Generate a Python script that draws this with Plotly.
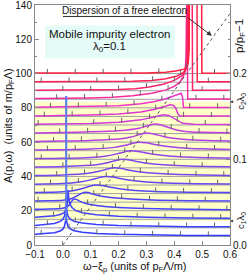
import numpy as np
import plotly.graph_objects as go
from plotly.colors import sample_colorscale

# ---------------- data ----------------
offsets = [5, 10, 15, 20, 25, 30, 35, 40, 45, 50, 55, 60, 65, 70, 75, 80, 85, 90, 95, 100]
p_rel = [0.01, 0.02, 0.03, 0.04, 0.05, 0.06, 0.07, 0.08, 0.09, 0.10,
         0.11, 0.12, 0.13, 0.14, 0.15, 0.16, 0.17, 0.18, 0.19, 0.20]

x_ticks = [-0.1, 0.0, 0.1, 0.2, 0.3, 0.4, 0.5, 0.6]
x_ticktext = ["\u22120.1", "0.0", "0.1", "0.2", "0.3", "0.4", "0.5", "0.6"]
y_ticks = [0, 20, 40, 60, 80, 100, 120, 140]
y2_ticks = [0.0, 0.1, 0.2]
y2_ticktext = ["0.0", "0.1", "0.2"]

# free electron dispersion (dotted line)
disp_x = [0.0, 0.6]
disp_A = [0.0, 135.0]

# band between c1*lambda0 and c2*lambda0
c1_level = 14.0
c2_level = 83.5

# quasiparticle delta peak
qp_omega = [0.012, 0.012]
qp_A = [14.0, 87.0]

# fixed-omega tick spacing on the curves
omega_tick_step = 0.1

# spectral functions (height above each curve's offset)
om01 = [-0.1, -0.06, -0.03, -0.01, 0.0, 0.006, 0.010, 0.012, 0.014, 0.018, 0.025, 0.04, 0.07, 0.12, 0.2, 0.3, 0.45, 0.6]
sp01 = [1.2, 1.6, 2.2, 3.2, 4.2, 6.0, 8.5, 11.0, 8.5, 6.0, 4.5, 3.3, 2.4, 1.7, 1.2, 0.9, 0.6, 0.5]
om02 = [-0.1, -0.06, -0.03, -0.01, 0.0, 0.006, 0.010, 0.012, 0.014, 0.018, 0.025, 0.04, 0.07, 0.12, 0.2, 0.3, 0.45, 0.6]
sp02 = [1.4, 1.9, 2.6, 3.8, 5.0, 7.0, 10.0, 13.0, 10.0, 7.0, 5.2, 3.8, 2.8, 2.0, 1.4, 1.0, 0.7, 0.6]
om03 = [-0.1, -0.06, -0.03, -0.01, 0.0, 0.008, 0.013, 0.016, 0.018, 0.019, 0.021, 0.025, 0.032, 0.045, 0.07, 0.12, 0.2, 0.3, 0.45, 0.6]
sp03 = [1.2, 1.5, 2.0, 2.8, 3.4, 4.5, 6.0, 8.5, 12.5, 17.0, 12.0, 9.0, 7.0, 5.2, 3.8, 2.6, 1.8, 1.2, 0.8, 0.6]
om04 = [-0.1, -0.05, 0.0, 0.015, 0.025, 0.032, 0.04, 0.048, 0.06, 0.08, 0.11, 0.15, 0.2, 0.3, 0.45, 0.6]
sp04 = [0.8, 1.0, 1.5, 2.3, 3.8, 5.6, 6.8, 6.6, 5.6, 4.4, 3.3, 2.5, 1.9, 1.3, 0.8, 0.6]
om05 = [-0.1, -0.05, 0.0, 0.03, 0.05, 0.065, 0.078, 0.09, 0.11, 0.14, 0.18, 0.24, 0.32, 0.45, 0.6]
sp05 = [0.6, 0.8, 1.1, 2.0, 3.6, 5.0, 5.8, 5.6, 4.6, 3.4, 2.5, 1.8, 1.2, 0.8, 0.6]
om06 = [-0.1, 0.0, 0.04, 0.07, 0.095, 0.12, 0.145, 0.175, 0.21, 0.26, 0.33, 0.45, 0.6]
sp06 = [0.6, 1.0, 1.8, 3.0, 4.3, 5.0, 4.6, 3.6, 2.6, 1.8, 1.2, 0.8, 0.6]
om07 = [-0.1, 0.0, 0.06, 0.1, 0.13, 0.155, 0.18, 0.21, 0.25, 0.3, 0.37, 0.47, 0.6]
sp07 = [0.5, 0.9, 1.8, 3.0, 4.3, 5.0, 4.6, 3.6, 2.6, 1.8, 1.2, 0.8, 0.6]
om08 = [-0.1, 0.0, 0.09, 0.13, 0.16, 0.185, 0.21, 0.24, 0.28, 0.33, 0.4, 0.5, 0.6]
sp08 = [0.5, 0.8, 1.8, 3.0, 4.3, 5.0, 4.6, 3.6, 2.6, 1.8, 1.2, 0.8, 0.6]
om09 = [-0.1, 0.0, 0.12, 0.16, 0.19, 0.215, 0.24, 0.27, 0.31, 0.36, 0.43, 0.52, 0.6]
sp09 = [0.5, 0.8, 1.8, 3.0, 4.3, 5.0, 4.6, 3.6, 2.6, 1.8, 1.2, 0.8, 0.6]
om10 = [-0.1, 0.0, 0.1, 0.15, 0.19, 0.22, 0.245, 0.27, 0.30, 0.34, 0.39, 0.46, 0.6]
sp10 = [0.4, 0.6, 1.1, 1.8, 3.0, 4.3, 5.0, 4.6, 3.6, 2.6, 1.8, 1.2, 0.7]
om11 = [-0.1, 0.0, 0.1, 0.18, 0.22, 0.25, 0.275, 0.30, 0.33, 0.37, 0.42, 0.5, 0.6]
sp11 = [0.4, 0.6, 1.0, 1.8, 3.0, 4.3, 5.0, 4.6, 3.6, 2.6, 1.8, 1.1, 0.7]
om12 = [-0.1, 0.0, 0.1, 0.2, 0.245, 0.275, 0.30, 0.325, 0.355, 0.39, 0.44, 0.52, 0.6]
sp12 = [0.4, 0.6, 1.0, 1.8, 3.0, 4.4, 5.3, 4.8, 3.6, 2.4, 1.5, 0.9, 0.6]
om13 = [-0.1, 0.0, 0.1, 0.2, 0.27, 0.305, 0.33, 0.35, 0.375, 0.405, 0.44, 0.5, 0.6]
sp13 = [0.4, 0.6, 1.0, 1.7, 3.0, 4.6, 5.6, 5.2, 3.8, 2.2, 1.2, 0.7, 0.5]
om14 = [-0.1, 0.0, 0.1, 0.2, 0.28, 0.33, 0.36, 0.38, 0.395, 0.41, 0.43, 0.47, 0.6]
sp14 = [0.4, 0.6, 0.9, 1.6, 3.0, 4.8, 6.0, 5.6, 4.2, 2.4, 1.0, 0.5, 0.3]
om15 = [-0.1, 0.0, 0.1, 0.2, 0.28, 0.33, 0.365, 0.385, 0.398, 0.406, 0.413, 0.42, 0.6]
sp15 = [0.3, 0.5, 0.8, 1.4, 2.6, 4.2, 5.8, 6.8, 6.4, 4.5, 1.5, 0.3, 0.2]
om16 = [-0.1, 0.0, 0.1, 0.2, 0.28, 0.33, 0.37, 0.40, 0.415, 0.425, 0.430, 0.433, 0.6]
sp16 = [0.3, 0.5, 0.8, 1.3, 2.4, 3.7, 5.3, 7.2, 8.3, 8.5, 6.0, 0.2, 0.2]
om17 = [-0.1, 0.0, 0.1, 0.18, 0.25, 0.32, 0.37, 0.40, 0.42, 0.432, 0.439, 0.442, 0.4435, 0.4465, 0.448, 0.6]
sp17 = [0.4, 0.5, 0.8, 1.2, 2.0, 3.5, 5.5, 7.5, 10.0, 13.0, 16.5, 25.0, 80.0, 80.0, 0.2, 0.2]
om18 = [-0.1, 0.1, 0.2, 0.26, 0.31, 0.36, 0.40, 0.425, 0.438, 0.443, 0.446, 0.4475, 0.464, 0.4655, 0.6]
sp18 = [0.3, 0.4, 0.7, 1.2, 2.2, 3.8, 6.0, 8.5, 11.0, 13.0, 20.0, 80.0, 80.0, 0.2, 0.2]
om19 = [-0.1, 0.1, 0.25, 0.32, 0.37, 0.41, 0.432, 0.443, 0.448, 0.4505, 0.452, 0.481, 0.4825, 0.6]
sp19 = [0.3, 0.3, 0.5, 1.0, 2.0, 3.6, 5.5, 8.0, 11.0, 20.0, 80.0, 80.0, 0.2, 0.2]
om20 = [-0.1, 0.1, 0.3, 0.37, 0.41, 0.435, 0.443, 0.45, 0.4535, 0.455, 0.4975, 0.499, 0.6]
sp20 = [0.3, 0.3, 0.4, 0.8, 1.6, 2.6, 3.5, 6.0, 14.0, 80.0, 80.0, 0.2, 0.2]

omegas = [om01, om02, om03, om04, om05, om06, om07, om08, om09, om10,
          om11, om12, om13, om14, om15, om16, om17, om18, om19, om20]
spectra = [sp01, sp02, sp03, sp04, sp05, sp06, sp07, sp08, sp09, sp10,
           sp11, sp12, sp13, sp14, sp15, sp16, sp17, sp18, sp19, sp20]

# ---------------- styling ----------------
FONT = "Liberation Sans, Arial, sans-serif"
scale = [[0.0, "rgb(50,60,255)"], [0.25, "rgb(85,70,250)"], [0.45, "rgb(140,70,235)"],
         [0.65, "rgb(200,60,225)"], [0.8, "rgb(240,50,200)"], [0.85, "rgb(250,40,150)"],
         [0.9, "rgb(255,35,100)"], [1.0, "rgb(255,30,60)"]]
n = len(offsets)
colors = sample_colorscale(scale, [i / (n - 1) for i in range(n)])
smooth_idx = set(range(3, 13))

fig = go.Figure()

# baselines
bx, by = [], []
for a0 in offsets:
    bx += [x_ticks[0], x_ticks[-1], None]
    by += [a0, a0, None]
fig.add_trace(go.Scatter(x=bx, y=by, mode="lines", line=dict(color="#a0a0a0", width=1),
                         hoverinfo="skip", showlegend=False))

# curves
tx, ty = [], []
for i, (om, sp, a0) in enumerate(zip(omegas, spectra, offsets)):
    om = np.array(om)
    sp = np.array(sp)
    yv = sp + a0
    shape = "spline" if i in smooth_idx else "linear"
    fig.add_trace(go.Scatter(x=om, y=yv, mode="lines",
                             line=dict(color=colors[i], width=1.5, shape=shape, smoothing=0.8),
                             hoverinfo="skip", showlegend=False))
    phase = float(np.interp(a0, disp_A, disp_x))
    for m in range(-10, 12):
        xt = phase + m * omega_tick_step
        if x_ticks[0] + 0.005 < xt < x_ticks[-1] - 0.005:
            yt = float(np.interp(xt, om, sp)) + a0
            if yt < 130:
                tx.append(xt)
                ty.append(yt + 1.0)

# dotted free-electron dispersion
fig.add_trace(go.Scatter(x=disp_x, y=disp_A, mode="lines",
                         line=dict(color="#555555", width=1, dash="dot"),
                         hoverinfo="skip", showlegend=False))

# tick marks at fixed omega
fig.add_trace(go.Scatter(x=tx, y=ty, mode="markers",
                         marker=dict(symbol="line-ns", size=3.5,
                                     line=dict(color="#666666", width=1)),
                         hoverinfo="skip", showlegend=False))

# quasiparticle peak
fig.add_trace(go.Scatter(x=qp_omega, y=qp_A, mode="lines",
                         line=dict(color="rgb(90,120,240)", width=2),
                         hoverinfo="skip", showlegend=False))

# invisible trace on the right axis
fig.add_trace(go.Scatter(x=[x_ticks[0]], y=[p_rel[0]], yaxis="y2", mode="markers",
                         marker=dict(opacity=0), hoverinfo="skip", showlegend=False))

# shapes
fig.add_shape(type="rect", xref="paper", x0=0, x1=1, yref="y", y0=c1_level, y1=c2_level,
              fillcolor="#ffffc8", line=dict(width=0), layer="below")
fig.add_shape(type="rect", xref="x", yref="y", x0=-0.064, x1=0.402, y0=109, y1=128,
              fillcolor="#e4fbf8", line=dict(width=0), layer="below")
fig.add_shape(type="line", xref="paper", yref="paper", x0=0.1436, x1=0.774, y0=0.952, y1=0.952,
              line=dict(color="#333333", width=1))

# annotations
ann = []
ann.append(dict(text="Dispersion of a free electron", xref="paper", yref="paper",
                x=0.4615, y=0.977, xanchor="center", yanchor="middle", showarrow=False,
                font=dict(size=10, color="#111", family=FONT)))
ann.append(dict(text="", x=0.535, y=122, xref="x", yref="y", axref="x", ayref="y",
                ax=0.442, ay=133.4, showarrow=True, arrowhead=2, arrowsize=1,
                arrowwidth=1, arrowcolor="#333"))
ann.append(dict(text="Mobile impurity electron", x=0.169, y=123.1, xref="x", yref="y",
                xanchor="center", yanchor="middle", showarrow=False,
                font=dict(size=11.5, color="#111", family=FONT)))
ann.append(dict(text="\u03bb<sub>0</sub>=0.1", x=0.169, y=115.3, xref="x", yref="y",
                xanchor="center", yanchor="middle", showarrow=False,
                font=dict(size=11.5, color="#111", family=FONT)))
ann.append(dict(text="A(p,\u03c9)  (units of m/p<sub>F</sub>\u039b)", xref="paper", yref="paper",
                x=-0.133, y=0.496, xanchor="center", yanchor="middle", textangle=-90,
                showarrow=False, font=dict(size=11, color="#111", family=FONT)))
ann.append(dict(text="\u03c9\u2212\u03be<sub>p</sub> (units of p<sub>F</sub>\u039b/m)",
                xref="paper", yref="paper", x=0.513, y=-0.092, xanchor="center",
                yanchor="middle", showarrow=False,
                font=dict(size=11, color="#111", family=FONT)))
ann.append(dict(text="p/p<sub>F</sub>\u22121", xref="paper", yref="paper", x=1.051, y=0.871,
                xanchor="center", yanchor="middle", textangle=-90, showarrow=False,
                font=dict(size=11.5, color="#111", family=FONT)))
ann.append(dict(text="c<sub>2</sub>\u03bb<sub>0</sub>", xref="paper", yref="y", x=1.0, y=c2_level,
                textangle=-90, showarrow=True, ax=11, ay=0, arrowhead=2, arrowsize=0.6,
                arrowwidth=1, arrowcolor="#555", font=dict(size=9.5, color="#111", family=FONT)))
ann.append(dict(text="c<sub>1</sub>\u03bb<sub>0</sub>", xref="paper", yref="y", x=1.0, y=c1_level,
                textangle=-90, showarrow=True, ax=11, ay=0, arrowhead=2, arrowsize=0.6,
                arrowwidth=1, arrowcolor="#555", font=dict(size=9.5, color="#111", family=FONT)))

fig.update_layout(
    width=250, height=277,
    margin=dict(l=35, r=20, t=5, b=32, autoexpand=False),
    paper_bgcolor="white", plot_bgcolor="white",
    showlegend=False,
    annotations=ann,
    font=dict(family=FONT, size=10, color="#111"),
    xaxis=dict(range=[x_ticks[0], x_ticks[-1]], tickvals=x_ticks, ticktext=x_ticktext,
               ticks="inside", ticklen=4, tickcolor="#888", showline=True, linecolor="#888",
               mirror=True, showgrid=False, zeroline=False, automargin=False,
               ticklabeloverflow="allow",
               tickfont=dict(size=10, family=FONT, color="#111")),
    yaxis=dict(range=[0, 140], tickvals=y_ticks, ticks="inside", ticklen=4, tickcolor="#888",
               showline=True, linecolor="#888", showgrid=False, zeroline=False, automargin=False,
               ticklabeloverflow="allow",
               minor=dict(dtick=10, ticklen=2, ticks="inside", tickcolor="#888"),
               tickfont=dict(size=10, family=FONT, color="#111")),
    yaxis2=dict(range=[0, 0.28], overlaying="y", side="right", tickvals=y2_ticks,
                ticktext=y2_ticktext, ticks="inside", ticklen=4, tickcolor="#888",
                showline=True, linecolor="#888", showgrid=False, zeroline=False, automargin=False,
                ticklabeloverflow="allow",
                minor=dict(dtick=0.02, ticklen=2, ticks="inside", tickcolor="#888"),
                tickfont=dict(size=10, family=FONT, color="#111")),
)

fig.write_html("out.html", config={"displayModeBar": False, "staticPlot": True},
               post_script="document.body.style.margin='0';document.body.style.padding='0';")
